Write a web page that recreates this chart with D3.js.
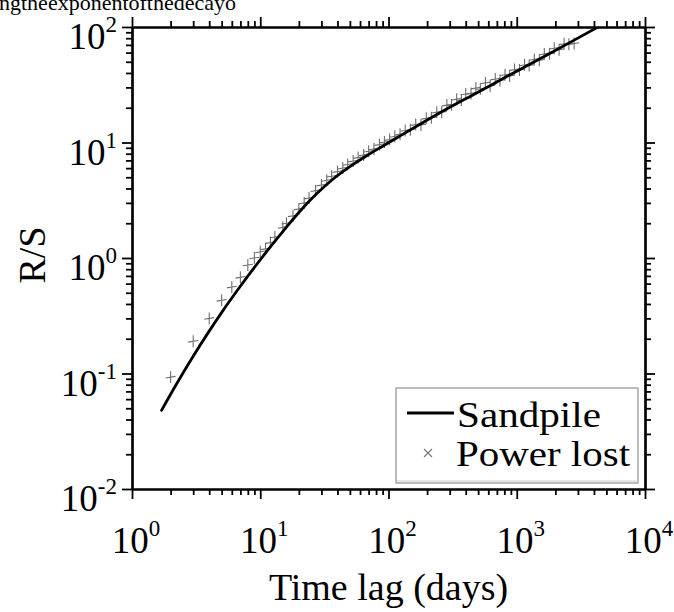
<!DOCTYPE html>
<html>
<head>
<meta charset="utf-8">
<script src="https://cdn.jsdelivr.net/npm/d3@7"></script>
<style>
  body { margin: 0; background: #fff; }
  svg { display: block; font-family: "Liberation Serif", "Times New Roman", serif; }
</style>
</head>
<body>
<div id="chart"></div>
<script>
// Sandpile model curve (time lag in days, R/S)
var sandDays = [1.7, 2.23, 3.0, 3.94, 5.15, 6.55, 8.3, 11.2, 15.1, 20.4, 27, 37, 50, 68, 90, 123, 176, 252, 458, 835, 1518, 2760, 4300];
var sandRS   = [0.048, 0.0815, 0.141, 0.227, 0.354, 0.515, 0.735, 1.135, 1.71, 2.54, 3.52, 4.83, 6.18, 7.72, 9.28, 11.4, 14.4, 18.1, 25.9, 37.2, 53.2, 76.2, 100];

// Power lost data points
var powerDays = [2, 3, 4, 5, 6, 7, 8, 9, 10, 11, 12, 13, 15, 16, 18, 20, 22, 24, 27, 30, 33, 36, 40, 44, 48, 53, 58, 64, 70, 77, 85, 93,
  102, 112, 123, 135, 148, 163, 179, 197, 216, 238, 260, 285, 310, 340, 370, 400, 440, 480, 520, 570, 620, 680, 740, 810, 880, 960,
  1050, 1150, 1250, 1370, 1500, 1640, 1800, 1960, 2140, 2340, 2550, 2800];
var powerRS = [0.093, 0.19, 0.30, 0.43, 0.56, 0.68, 0.87, 1.0, 1.13, 1.2, 1.36, 1.52, 1.84, 2.0, 2.32, 2.66, 3.0, 3.3, 3.83, 4.28, 4.7, 5.1, 5.6, 6.0, 6.45, 6.9, 7.4, 7.8, 8.4, 8.8, 9.6, 10.1,
  10.6, 11.3, 11.8, 12.7, 12.9, 14.3, 14.2, 16.2, 16.4, 18.3, 18.3, 21.1, 21.2, 23.7, 23.3, 26.3, 26.6, 29.6, 29.2, 32.8, 30.8, 35.4, 34.4, 38.6, 37.6, 42.8,
  42.4, 47.0, 46.4, 52.4, 51.5, 58.5, 58.6, 65.5, 63.6, 71.5, 70.8, 72];

// axis decades and labels
var xDecades = [1, 10, 100, 1000, 10000];
var xExp = ["0", "1", "2", "3", "4"];
var yDecades = [0.01, 0.1, 1, 10, 100];
var yExp = ["-2", "-1", "0", "1", "2"];

var legendLabels = ["Sandpile", "Power lost"];

var width = 674, height = 612;
var mLeft = 132, mRight = 645, mTop = 27, mBottom = 489;

var svg = d3.select("#chart").append("svg")
    .attr("width", width)
    .attr("height", height);

// stray caption text from the page above the figure
svg.append("text")
    .attr("x", -1)
    .attr("y", 10)
    .style("font-size", "22px")
    .text("ngtheexponentofthedecayo");

var x = d3.scaleLog().domain([1, 10000]).range([mLeft, mRight]);
var y = d3.scaleLog().domain([0.01, 100]).range([mBottom, mTop]);

function minors(decades) {
  var out = [];
  decades.slice(0, -1).forEach(function(d) {
    for (var k = 2; k <= 9; k++) out.push(d * k);
  });
  return out;
}

var xMinor = minors(xDecades), yMinor = minors(yDecades);

function drawAxis(axisFn, scale, vals, size, tr) {
  var g = svg.append("g")
      .attr("transform", tr)
      .call(axisFn(scale).tickValues(vals).tickSize(size).tickSizeOuter(0).tickFormat(""));
  g.selectAll("line").attr("stroke", "#000").attr("stroke-width", 1.8);
  g.select(".domain").attr("stroke", "#000").attr("stroke-width", 2.2);
  return g;
}

drawAxis(d3.axisBottom, x, xMinor, 6, "translate(0," + mBottom + ")");
drawAxis(d3.axisBottom, x, xDecades, 10, "translate(0," + mBottom + ")");
drawAxis(d3.axisTop, x, xMinor, 6, "translate(0," + mTop + ")");
drawAxis(d3.axisTop, x, xDecades, 10, "translate(0," + mTop + ")");
drawAxis(d3.axisLeft, y, yMinor, 6, "translate(" + mLeft + ",0)");
drawAxis(d3.axisLeft, y, yDecades, 10, "translate(" + mLeft + ",0)");
drawAxis(d3.axisRight, y, yMinor, 6, "translate(" + mRight + ",0)");
drawAxis(d3.axisRight, y, yDecades, 10, "translate(" + mRight + ",0)");

// bottom tick labels 10^n
xDecades.forEach(function(d, i) {
  var t = svg.append("text")
      .attr("x", x(d) + 4)
      .attr("y", 553)
      .attr("text-anchor", "middle")
      .style("font-size", "37px");
  t.append("tspan").text("10");
  t.append("tspan").attr("dy", -17).style("font-size", "23px").text(xExp[i]);
});

// left tick labels
yDecades.forEach(function(d, i) {
  var t = svg.append("text")
      .attr("x", 117)
      .attr("y", y(d) + 22)
      .attr("text-anchor", "end")
      .style("font-size", "37px");
  t.append("tspan").text("10");
  t.append("tspan").attr("dy", -17).style("font-size", "23px").text(yExp[i]);
});

// axis titles
svg.append("text")
    .attr("x", (mLeft + mRight) / 2)
    .attr("y", 600)
    .attr("text-anchor", "middle")
    .style("font-size", "38px")
    .text("Time lag (days)");

svg.append("text")
    .attr("transform", "translate(45," + ((mTop + mBottom) / 2 - 3) + ") rotate(-90)")
    .attr("text-anchor", "middle")
    .style("font-size", "38px")
    .text("R/S");

// clip to plot area
svg.append("clipPath").attr("id", "plot")
  .append("rect")
    .attr("x", mLeft).attr("y", mTop)
    .attr("width", mRight - mLeft).attr("height", mBottom - mTop);

var plot = svg.append("g").attr("clip-path", "url(#plot)");

// power lost markers (+)
var pts = powerDays.map(function(d, i) { return [d, powerRS[i]]; });
plot.append("g")
  .selectAll("path")
  .data(pts)
  .enter().append("path")
    .attr("d", function(d) {
      var px = x(d[0]), py = y(d[1]);
      return "M" + (px - 5) + "," + (py + 0.8) + "L" + (px + 5) + "," + (py - 0.8) +
             "M" + px + "," + (py - 6) + "L" + px + "," + (py + 6);
    })
    .attr("fill", "none")
    .attr("stroke", "#6e6e6e")
    .attr("stroke-width", 1.1);

// sandpile line
var line = d3.line()
    .x(function(d) { return x(d[0]); })
    .y(function(d) { return y(d[1]); })
    .curve(d3.curveMonotoneX);

plot.append("path")
    .datum(sandDays.map(function(d, i) { return [d, sandRS[i]]; }))
    .attr("d", line)
    .attr("fill", "none")
    .attr("stroke", "#000")
    .attr("stroke-width", 2.8)
    .attr("stroke-linecap", "round");

// legend
var legend = svg.append("g");
legend.append("rect")
    .attr("x", 396).attr("y", 388)
    .attr("width", 242).attr("height", 95)
    .attr("fill", "#fff")
    .attr("stroke", "#999")
    .attr("stroke-width", 1.3);
legend.append("line")
    .attr("x1", 397).attr("x2", 638)
    .attr("y1", 481).attr("y2", 481)
    .attr("stroke", "#ccc");

legend.append("line")
    .attr("x1", 407).attr("x2", 454)
    .attr("y1", 413).attr("y2", 413)
    .attr("stroke", "#000")
    .attr("stroke-width", 2.8);

legend.append("path")
    .attr("d", "M424,449L432,457M432,449L424,457")
    .attr("stroke", "#777")
    .attr("stroke-width", 1.1);

legend.append("text")
    .attr("x", 457).attr("y", 427)
    .attr("textLength", 144)
    .attr("lengthAdjust", "spacingAndGlyphs")
    .style("font-size", "36px")
    .text(legendLabels[0]);

legend.append("text")
    .attr("x", 456).attr("y", 466)
    .attr("textLength", 174)
    .attr("lengthAdjust", "spacingAndGlyphs")
    .style("font-size", "36px")
    .text(legendLabels[1]);
</script>
</body>
</html>
